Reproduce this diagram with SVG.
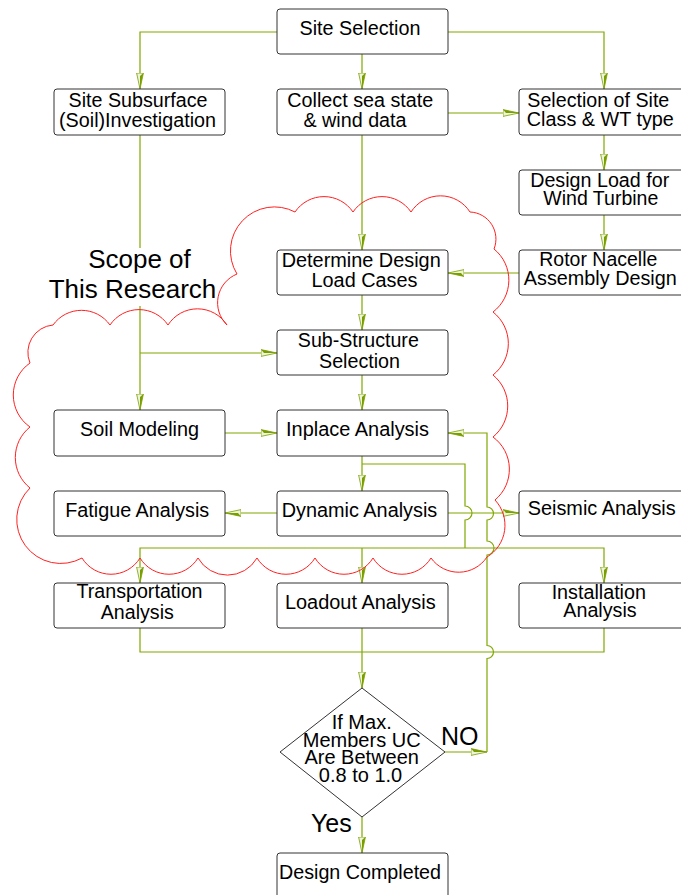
<svg xmlns="http://www.w3.org/2000/svg" width="681" height="895" viewBox="0 0 681 895">
<style>
.box{fill:#fff;stroke:#333;stroke-width:1}
.t{font-family:"Liberation Sans",Arial,sans-serif;font-size:20px;fill:#000;text-anchor:middle}
.big{font-family:"Liberation Sans",Arial,sans-serif;font-size:26px;fill:#000;text-anchor:middle}
.lbl{font-family:"Liberation Sans",Arial,sans-serif;font-size:25px;fill:#000;text-anchor:middle}
.c{fill:none;stroke:#80a800;stroke-width:1.2}
.ca{fill:none;stroke:#80a800;stroke-width:1.2;marker-end:url(#ah)}
.cloud{fill:none;stroke:#ff2020;stroke-width:1}
</style>
<defs>
<marker id="ah" viewBox="0 0 16 8" refX="16" refY="4" markerWidth="16" markerHeight="8" markerUnits="userSpaceOnUse" orient="auto">
<path d="M16,4 L0,0.6 L0,7.4 Z" fill="#eef4d8" stroke="#7a9e00" stroke-width="0.8"/>
<path d="M16,4 L0,0.6 L3,4 Z" fill="#7a9e00"/>
</marker>
</defs>
<rect width="681" height="895" fill="#fff"/>

<g id="connectors">
<path class="ca" d="M277,32 H140 V89"/>
<path class="ca" d="M448,32 H604 V89"/>
<path class="ca" d="M362,54 V89"/>
<path class="ca" d="M448,113 H519"/>
<path class="ca" d="M604,135 V170"/>
<path class="ca" d="M604,215 V250"/>
<path class="ca" d="M519,273 H448"/>
<path class="ca" d="M362,135 V250"/>
<path class="ca" d="M362,295 V330"/>
<path class="ca" d="M140,135 V410"/>
<path class="ca" d="M140,353 H277"/>
<path class="ca" d="M362,375 V410"/>
<path class="ca" d="M225,433 H277"/>
<path class="ca" d="M362,456 V491"/>
<path class="ca" d="M277,513 H225"/>
<path class="ca" d="M448,513 H519"/>
<path class="c" d="M362,464 H465 V506 A7,7 0 0 1 465,520 V548"/>
<path class="ca" d="M465,548 H140 V583"/>
<path class="ca" d="M465,548 H604 V583"/>
<path class="ca" d="M362,548 V583"/>
<path class="c" d="M140,628 V652 H604 V628"/>
<path class="ca" d="M362,628 V688"/>
<path class="ca" d="M445,752 H487"/>
<path class="ca" d="M487,752 V658.5 A6.5,6.5 0 0 0 487,645.5 V555 A7,7 0 0 0 487,541 V520 A6.5,6.5 0 0 0 487,507 V433 H448"/>
<path class="ca" d="M362,817 V853"/>
</g>

<path id="cloud" class="cloud" d="M53,325 A35,35 0 0 1 110,325 A35,35 0 0 1 168,325 A35,35 0 0 1 227,325 A31,31 0 0 1 237,274 A44,44 0 0 1 295,212 A35,35 0 0 1 353,212 A35,35 0 0 1 411,212 A35,35 0 0 1 470,212 A27,27 0 0 1 494,249 A40,40 0 0 1 493,312 A40,40 0 0 1 493,375 A40,40 0 0 1 493,437 A40,40 0 0 1 495,500 A37,37 0 0 1 487,557 A34,34 0 0 1 431,558 A34,34 0 0 1 373,558 A34,34 0 0 1 315,558 A34,34 0 0 1 257,558 A34,34 0 0 1 198,558 A34,34 0 0 1 140,558 A34,34 0 0 1 82,558 A44,44 0 0 1 30,488 A39,39 0 0 1 30,427 A39,39 0 0 1 30,363 A27.5,27.5 0 0 1 53,325 Z"/>

<g id="scope">
<rect x="48" y="248" width="169" height="58" fill="#fff"/>
<text class="big" x="139.5" y="268">Scope of</text>
<text class="big" x="132.5" y="298">This Research</text>
</g>

<g id="site-selection"><rect class="box" x="277" y="9" width="171" height="45" rx="3"/><text class="t" x="360" y="35" textLength="121" lengthAdjust="spacingAndGlyphs">Site Selection</text></g>
<g id="site-subsurface"><rect class="box" x="54" y="89" width="171" height="46" rx="3"/><text class="t" x="138" y="106.7" textLength="139" lengthAdjust="spacingAndGlyphs">Site Subsurface</text><text class="t" x="137.5" y="126.7" textLength="157" lengthAdjust="spacingAndGlyphs">(Soil)Investigation</text></g>
<g id="collect"><rect class="box" x="277" y="89" width="171" height="46" rx="3"/><text class="t" x="360.3" y="107" textLength="146" lengthAdjust="spacingAndGlyphs">Collect sea state</text><text class="t" x="355" y="127" textLength="103" lengthAdjust="spacingAndGlyphs">&amp; wind data</text></g>
<g id="site-class"><rect class="box" x="519" y="89" width="171" height="46" rx="3"/><text class="t" x="598.3" y="106.7" textLength="142" lengthAdjust="spacingAndGlyphs">Selection of Site</text><text class="t" x="600.3" y="125.5" textLength="147" lengthAdjust="spacingAndGlyphs">Class &amp; WT type</text></g>
<g id="design-load"><rect class="box" x="519" y="170" width="171" height="45" rx="3"/><text class="t" x="599.7" y="186.7" textLength="139" lengthAdjust="spacingAndGlyphs">Design Load for</text><text class="t" x="600.8" y="205" textLength="115" lengthAdjust="spacingAndGlyphs">Wind Turbine</text></g>
<g id="rotor"><rect class="box" x="519" y="250" width="171" height="45" rx="3"/><text class="t" x="598.3" y="266" textLength="118" lengthAdjust="spacingAndGlyphs">Rotor Nacelle</text><text class="t" x="600.3" y="285" textLength="153" lengthAdjust="spacingAndGlyphs">Assembly Design</text></g>
<g id="determine"><rect class="box" x="277" y="250" width="171" height="45" rx="3"/><text class="t" x="361.2" y="266.7" textLength="159" lengthAdjust="spacingAndGlyphs">Determine Design</text><text class="t" x="364.5" y="286.7" textLength="106" lengthAdjust="spacingAndGlyphs">Load Cases</text></g>
<g id="sub-structure"><rect class="box" x="277" y="330" width="171" height="45" rx="3"/><text class="t" x="358.3" y="346.7" textLength="121" lengthAdjust="spacingAndGlyphs">Sub-Structure</text><text class="t" x="359.5" y="368.3" textLength="81" lengthAdjust="spacingAndGlyphs">Selection</text></g>
<g id="soil-modeling"><rect class="box" x="54" y="410" width="171" height="46" rx="3"/><text class="t" x="139.5" y="436" textLength="119" lengthAdjust="spacingAndGlyphs">Soil Modeling</text></g>
<g id="inplace"><rect class="box" x="277" y="410" width="171" height="46" rx="3"/><text class="t" x="357.5" y="435.5" textLength="143" lengthAdjust="spacingAndGlyphs">Inplace Analysis</text></g>
<g id="fatigue"><rect class="box" x="54" y="491" width="171" height="45" rx="3"/><text class="t" x="137.2" y="516.7" textLength="144" lengthAdjust="spacingAndGlyphs">Fatigue Analysis</text></g>
<g id="dynamic"><rect class="box" x="277" y="491" width="171" height="45" rx="3"/><text class="t" x="359.5" y="516.7" textLength="155.6" lengthAdjust="spacingAndGlyphs">Dynamic Analysis</text></g>
<g id="seismic"><rect class="box" x="519" y="491" width="171" height="45" rx="3"/><text class="t" x="601.7" y="515" textLength="148" lengthAdjust="spacingAndGlyphs">Seismic Analysis</text></g>
<g id="transportation"><rect class="box" x="54" y="583" width="171" height="45" rx="3"/><text class="t" x="139.5" y="597.7" textLength="126" lengthAdjust="spacingAndGlyphs">Transportation</text><text class="t" x="137.3" y="619.3" textLength="73" lengthAdjust="spacingAndGlyphs">Analysis</text></g>
<g id="loadout"><rect class="box" x="277" y="583" width="171" height="45" rx="3"/><text class="t" x="360.3" y="609" textLength="150.7" lengthAdjust="spacingAndGlyphs">Loadout Analysis</text></g>
<g id="installation"><rect class="box" x="519" y="583" width="171" height="45" rx="3"/><text class="t" x="598.8" y="599.3" textLength="94.3" lengthAdjust="spacingAndGlyphs">Installation</text><text class="t" x="600" y="617.3" textLength="73.3" lengthAdjust="spacingAndGlyphs">Analysis</text></g>
<g id="decision"><polygon class="box" points="362,688 445,752 362,817 280,752"/><text class="t" x="361.7" y="729.3">If Max.</text><text class="t" x="361.7" y="746.7">Members UC</text><text class="t" x="361.7" y="764.3">Are Between</text><text class="t" x="360.5" y="781.7">0.8 to 1.0</text></g>
<text class="lbl" x="459.7" y="745">NO</text>
<text class="lbl" x="331.3" y="831.7">Yes</text>
<g id="design-completed"><rect class="box" x="277" y="853" width="171" height="46" rx="3"/><text class="t" x="360" y="879.3" textLength="162" lengthAdjust="spacingAndGlyphs">Design Completed</text></g>
</svg>
